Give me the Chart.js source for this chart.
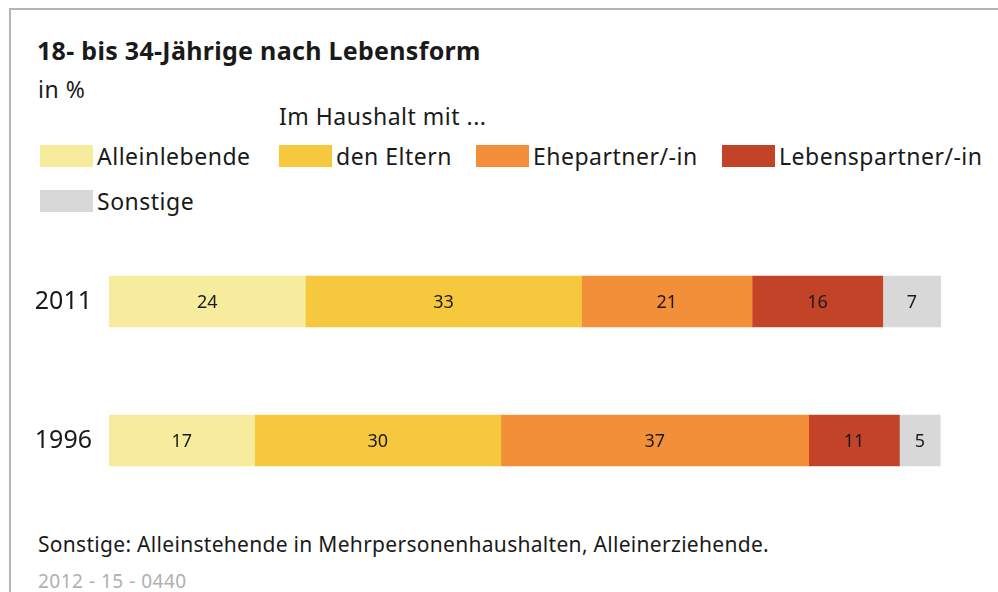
<!DOCTYPE html>
<html>
<head>
<meta charset="utf-8">
<script src="https://cdn.jsdelivr.net/npm/chart.js@4"></script>
<style>
  body { margin: 0; width: 998px; height: 592px; background: #fff; overflow: hidden; position: relative;
         font-family: "Noto Sans", sans-serif; color: #1a1a1a; }
  .frame { position: absolute; left: 9px; top: 8px; width: 1000px; height: 600px;
           border-left: 2px solid #b5b5b5; border-top: 2px solid #b5b5b5; }
  .txt { position: absolute; white-space: nowrap; line-height: 1; }
  #title { left: 37px; top: 38px; font-size: 25px; font-weight: bold; letter-spacing: 0.3px; }
  #unit { left: 38px; top: 78px; font-size: 23px; letter-spacing: 0.5px; }
  #group { left: 279px; top: 105px; font-size: 23px; letter-spacing: 0.5px; }
  #legend .item { position: absolute; font-size: 23px; line-height: 22px; letter-spacing: 0.5px; }
  #legend .box { position: absolute; left: 0; top: 0; width: 53px; height: 22px; }
  #legend .lbl { position: absolute; left: 57px; top: 0; white-space: nowrap; }
  #note { left: 38px; top: 534px; font-size: 21px; letter-spacing: 0.3px; }
  #code { left: 38px; top: 572px; font-size: 19px; color: #b0b0b0; letter-spacing: 0.5px; }
  #wrap { position: absolute; left: 0; top: 200px; width: 998px; height: 342px; }
</style>
</head>
<body>
<div class="frame"></div>
<div class="txt" id="title">18- bis 34-Jährige nach Lebensform</div>
<div class="txt" id="unit">in %</div>
<div class="txt" id="group">Im Haushalt mit ...</div>
<div id="legend"></div>
<div class="txt" id="note">Sonstige: Alleinstehende in Mehrpersonenhaushalten, Alleinerziehende.</div>
<div class="txt" id="code">2012 - 15 - 0440</div>
<div id="wrap"><canvas id="myChart"></canvas></div>
<script>
const years = ['2011', '1996'];
const seriesNames = ['Alleinlebende', 'den Eltern', 'Ehepartner/-in', 'Lebenspartner/-in', 'Sonstige'];
const colors = ['#f7ec9d', '#f5c83d', '#f48f39', '#c24327', '#d8d8d8'];

// bar shares
const alleinlebende = [23.6, 17.5];
const eltern = [33.2, 29.6];
const ehepartner = [20.5, 37.0];
const lebenspartner = [15.7, 10.9];
const sonstige = [7.0, 4.9];

// printed values
const alleinlebendeLabels = [24, 17];
const elternLabels = [33, 30];
const ehepartnerLabels = [21, 37];
const lebenspartnerLabels = [16, 11];
const sonstigeLabels = [7, 5];

const values = [alleinlebende, eltern, ehepartner, lebenspartner, sonstige];
const labels = [alleinlebendeLabels, elternLabels, ehepartnerLabels, lebenspartnerLabels, sonstigeLabels];

// legend
const legendPos = [[40, 145], [279, 145], [476, 145], [722, 145], [40, 190]];
const legend = document.getElementById('legend');
seriesNames.forEach((name, i) => {
  const item = document.createElement('div');
  item.className = 'item';
  item.style.left = legendPos[i][0] + 'px';
  item.style.top = legendPos[i][1] + 'px';
  item.innerHTML = '<div class="box" style="background:' + colors[i] + '"></div><div class="lbl">' + name + '</div>';
  legend.appendChild(item);
});

const barLabels = {
  id: 'barLabels',
  afterDatasetsDraw(chart) {
    const ctx = chart.ctx;
    ctx.save();
    ctx.font = '18px "Noto Sans", sans-serif';
    ctx.fillStyle = '#1a1a1a';
    ctx.textAlign = 'center';
    ctx.textBaseline = 'middle';
    chart.data.datasets.forEach((ds, i) => {
      chart.getDatasetMeta(i).data.forEach((bar, j) => {
        const p = bar.getProps(['x', 'y', 'base'], true);
        ctx.fillText(String(ds.printed[j]), (p.x + p.base) / 2, p.y + 1);
      });
    });
    ctx.restore();
  }
};

var ctx = document.getElementById('myChart').getContext('2d');
let myChart = new Chart(ctx, {
  type: 'bar',
  data: {
    labels: years,
    datasets: seriesNames.map((name, i) => ({
      label: name,
      data: values[i],
      printed: labels[i],
      backgroundColor: colors[i],
      borderWidth: 0,
      barThickness: 51
    }))
  },
  options: {
    indexAxis: 'y',
    responsive: true,
    maintainAspectRatio: false,
    animation: false,
    layout: { padding: { left: 0, right: 57, top: 0, bottom: 0 } },
    plugins: { legend: { display: false }, tooltip: { enabled: false } },
    scales: {
      x: { stacked: true, min: 0, max: 100, display: false },
      y: {
        stacked: true,
        grid: { display: false, drawTicks: false },
        border: { display: false },
        ticks: { color: '#1a1a1a', font: { family: '"Noto Sans", sans-serif', size: 25 }, padding: 17 },
        afterFit(scale) { scale.width = 109; }
      }
    }
  },
  plugins: [barLabels]
});
</script>
</body>
</html>
